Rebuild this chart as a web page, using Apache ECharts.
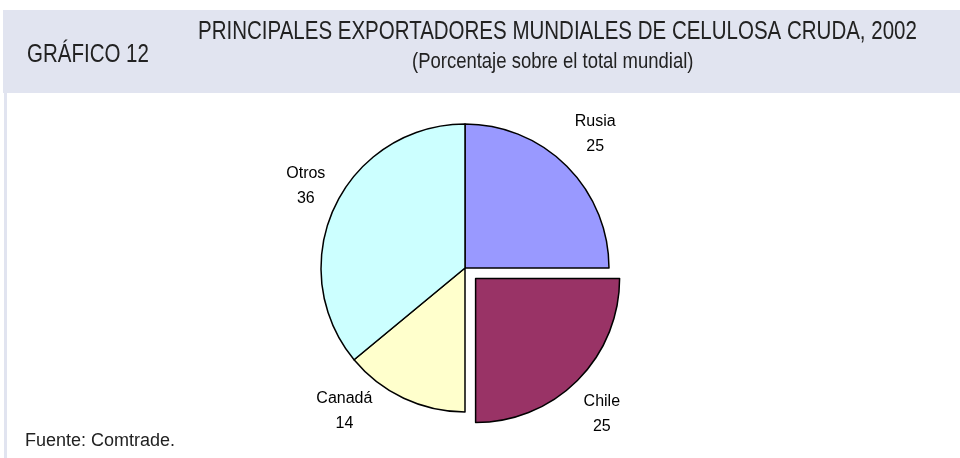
<!DOCTYPE html>
<html><head><meta charset="utf-8">
<script src="https://cdn.jsdelivr.net/npm/echarts@6/dist/echarts.min.js"></script>
<style>html,body{margin:0;padding:0;background:#fff}#c{width:960px;height:458px}</style>
</head><body><div id="c"></div>
<script>
const categories = ['Rusia', 'Chile', 'Canadá', 'Otros'];
const values = [25, 25, 14, 36];
const colors = ['#9999ff', '#993366', '#ffffcc', '#ccffff'];
const titleText = 'PRINCIPALES EXPORTADORES MUNDIALES DE CELULOSA CRUDA, 2002';
const subtitleText = '(Porcentaje sobre el total mundial)';
const chartNumber = 'GRÁFICO 12';
const sourceText = 'Fuente: Comtrade.';

const chart = echarts.init(document.getElementById('c'), null, {renderer: 'canvas'});
const sans = "'Liberation Sans', Arial, sans-serif";
// small nudges so the labels sit where the original placed them
const labelNudge = {Rusia: [-2, -2], Chile: [-6, 3], 'Canadá': [-41, -26], Otros: [10, -2]};

chart.setOption({
  animation: false,
  backgroundColor: '#ffffff',
  graphic: [
    {type: 'rect', shape: {x: 3, y: 10, width: 957, height: 83}, style: {fill: '#e1e4f0'}, z: -10},
    {type: 'rect', shape: {x: 4, y: 93, width: 3, height: 365}, style: {fill: '#e1e4f0'}, z: -10},
    {type: 'text', x: 27, y: 55, scaleX: 0.82, style: {text: chartNumber, font: "25px " + sans, fill: '#222', verticalAlign: 'middle'}},
    {type: 'text', x: 198, y: 32.5, scaleX: 0.82, style: {text: titleText, font: "25px " + sans, fill: '#222', verticalAlign: 'middle'}},
    {type: 'text', x: 412, y: 61.5, scaleX: 0.84, style: {text: subtitleText, font: "22px " + sans, fill: '#222', verticalAlign: 'middle'}},
    {type: 'text', x: 25, y: 441, style: {text: sourceText, font: "18px " + sans, fill: '#222', verticalAlign: 'middle'}}
  ],
  series: [{
    type: 'pie',
    center: [465, 268],
    radius: 144,
    startAngle: 90,
    clockwise: true,
    selectedMode: 'single',
    selectedOffset: 15,
    avoidLabelOverlap: false,
    itemStyle: {borderColor: '#000', borderWidth: 1.5},
    label: {
      show: true, position: 'outside',
      formatter: '{b}\n{c}',
      color: '#000', fontSize: 16, lineHeight: 25,
      fontFamily: sans,
      distanceToLabelLine: 0
    },
    labelLine: {show: false, length: 43, length2: 0},
    labelLayout: function (p) {
      const name = categories[p.dataIndex];
      const n = labelNudge[name] || [0, 0];
      return {align: 'center', verticalAlign: 'middle', dx: n[0], dy: n[1]};
    },
    emphasis: {disabled: true},
    data: categories.map((n, i) => ({
      name: n, value: values[i], selected: n === 'Chile',
      itemStyle: {color: colors[i]}
    }))
  }]
});
</script></body></html>
